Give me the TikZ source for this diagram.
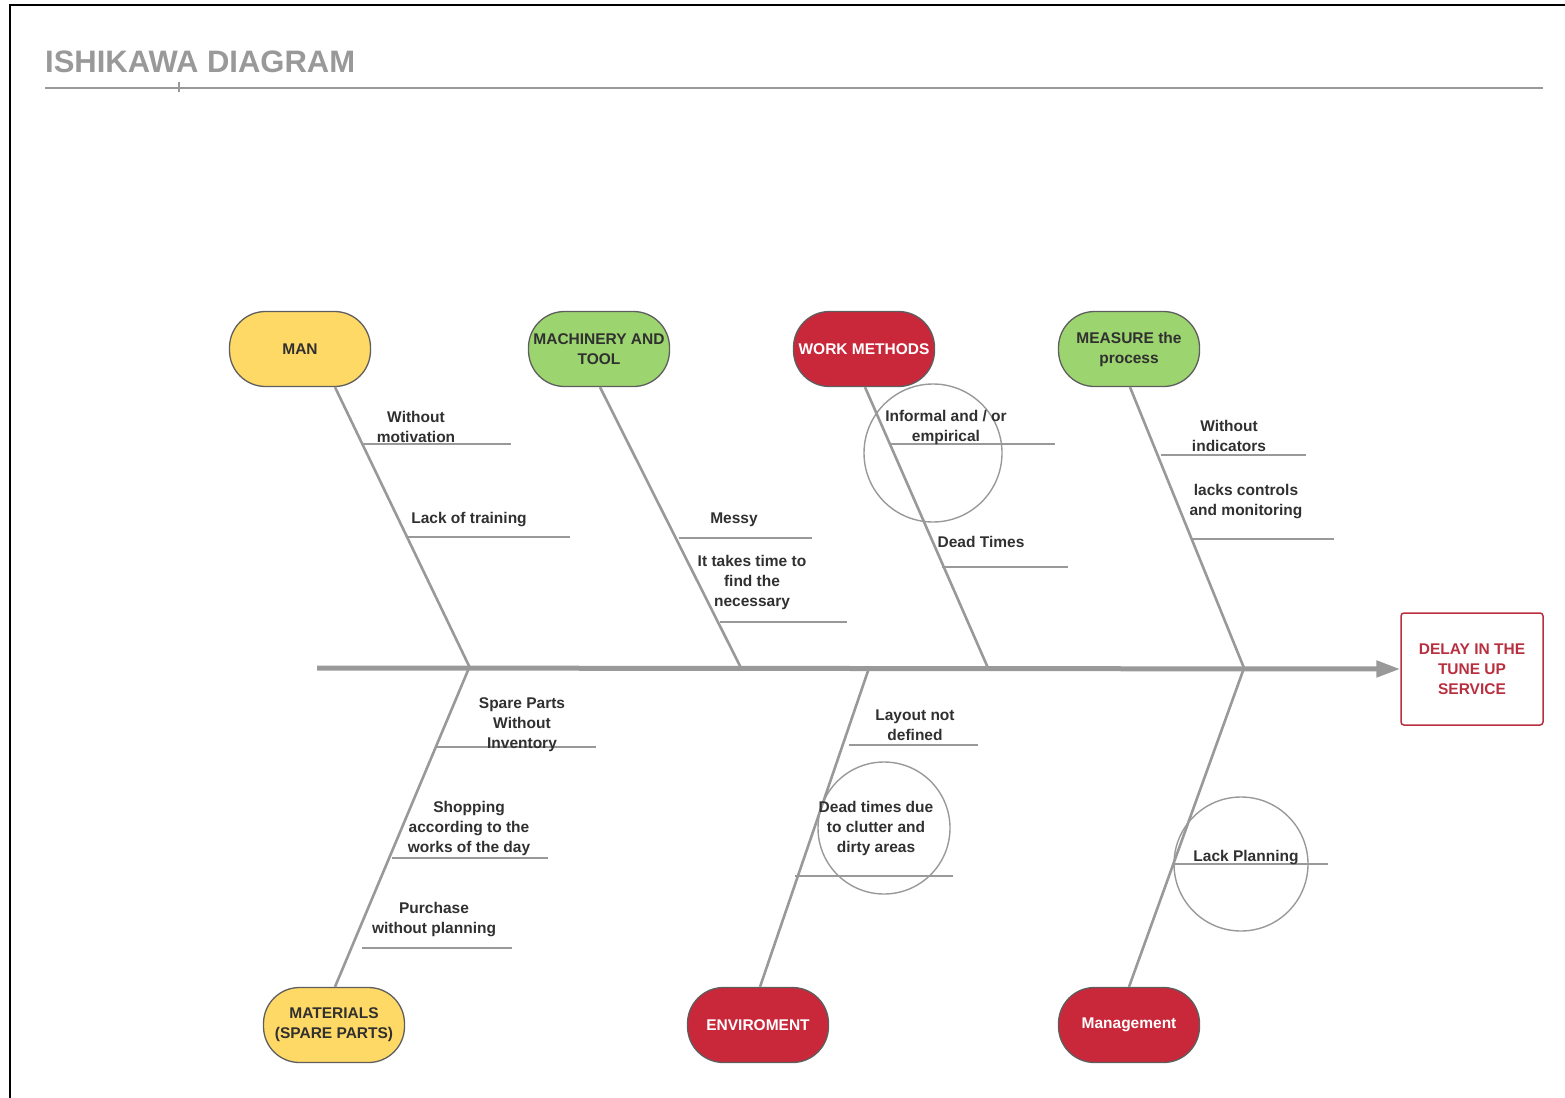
\documentclass[tikz,border=0pt]{standalone}
\usepackage{fontspec}
\setmainfont{Liberation Sans}
\usetikzlibrary{arrows.meta,calc}
\definecolor{cyel}{HTML}{FFD966}
\definecolor{cgrn}{HTML}{9CD46F}
\definecolor{cred}{HTML}{C8283A}
\definecolor{cbord}{HTML}{5E5E5E}
\definecolor{cline}{HTML}{999999}
\definecolor{ctext}{HTML}{303030}
\definecolor{ctitle}{HTML}{999999}
\definecolor{ceff}{HTML}{B8303F}
\tikzset{
  pill/.style={draw=cbord, line width=1.3pt, rounded corners=36pt, minimum width=141pt, minimum height=75pt, align=center, inner sep=0pt, font=\fontsize{15.5}{20}\selectfont\bfseries},
  yel/.style={pill, fill=cyel, text=ctext},
  grn/.style={pill, fill=cgrn, text=ctext},
  redp/.style={pill, fill=cred, text=white},
  bone/.style={draw=cline, line width=2.6pt},
  sub/.style={draw=cline, line width=1.4pt},
  lbl/.style={align=center, inner sep=0pt, text=ctext, font=\fontsize{15.5}{20}\selectfont\bfseries},
  ring/.style={draw=cline, line width=1.4pt},
}
\begin{document}
\begin{tikzpicture}[x=1pt,y=-1pt]
\useasboundingbox (0,0) rectangle (1565,1097);
% frame
\draw[line width=2pt, black] (10,1100) -- (10,5) -- (1570,5);
% title
\node[anchor=base west, inner sep=0pt, text=ctitle, font=\fontsize{31}{36}\selectfont\bfseries] (title) at (45,73) {ISHIKAWA DIAGRAM};
\draw[cline, line width=1.4pt] (45,88) -- (1543,88);
\draw[cline, line width=1.2pt] (179,82) -- (179,92);
% effect
\node[draw=ceff, line width=1.5pt, rounded corners=3pt, minimum width=142pt, minimum height=112pt, align=center, text=ceff, font=\fontsize{15.5}{20}\selectfont\bfseries] (effect) at (1472,669) {DELAY IN THE\\TUNE UP\\SERVICE};
% spine
\coordinate (tail) at (317,668);
\draw[cline, line width=5pt, -{Triangle[length=24pt,width=16pt]}] (tail) -- (effect.west);
% category nodes
\node[yel] (man) at (300,349) {MAN};
\node[grn] (mach) at (599,349) {MACHINERY AND\\TOOL};
\node[redp] (work) at (864,349) {WORK METHODS};
\node[grn] (meas) at (1129,349) {MEASURE the\\process};
\node[yel] (mat) at (334,1025) {MATERIALS\\(SPARE PARTS)};
\node[redp] (env) at (758,1025) {ENVIROMENT};
\node[redp] (mgmt) at (1129,1025) {Management};
% junctions
\coordinate (j1) at (470,668);
\coordinate (j2) at (741,668);
\coordinate (j3) at (988,668);
\coordinate (j4) at (1244,668);
\coordinate (k1) at (469,668);
\coordinate (k2) at (869,668);
\coordinate (k3) at (1244,668);
% bones
\draw[bone] ([xshift=35pt]man.south) -- (j1);
\draw[bone] ([xshift=1pt]mach.south) -- (j2);
\draw[bone] ([xshift=1pt]work.south) -- (j3);
\draw[bone] ([xshift=1pt]meas.south) -- (j4);
\draw[bone] ([xshift=1pt]mat.north) -- (k1);
\draw[bone] ([xshift=2pt]env.north) -- (k2);
\draw[bone] (mgmt.north) -- (k3);
% circles
\draw[ring] (933,453) circle[radius=69pt];
\draw[ring] (884,828) circle[radius=66pt];
\draw[ring] (1241,864) circle[radius=67pt];
% sub causes: MAN
\draw[sub] (362,444) -- (511,444);
\node[lbl] (m1) at (416,427) {Without\\motivation};
\draw[sub] (406,537) -- (570,537);
\node[lbl] (m2) at (469,520) {Lack of training};
% MACHINERY
\draw[sub] (679,538) -- (812,538);
\node[lbl] (c1) at (734,520) {Messy};
\draw[sub] (720,622) -- (847,622);
\node[lbl] (c2) at (752,582) {It takes time to\\find the\\necessary};
% WORK METHODS
\draw[sub] (889,444) -- (1055,444);
\node[lbl] (w1) at (946,427) {Informal and / or\\empirical};
\draw[sub] (942,567) -- (1068,567);
\node[lbl] (w2) at (981,542) {Dead Times};
% MEASURE
\draw[sub] (1161,455) -- (1306,455);
\node[lbl] (s1) at (1229,436) {Without\\indicators};
\draw[sub] (1193,539) -- (1334,539);
\node[lbl] (s2) at (1246,502) {lacks controls\\and monitoring};
% MATERIALS
\draw[sub] (437,747) -- (596,747);
\node[lbl] (t1) at (522,725) {Spare Parts\\Without\\Inventory};
\draw[sub] (392,858) -- (548,858);
\node[lbl] (t2) at (469,828) {Shopping\\according to the\\works of the day};
\draw[sub] (362,948) -- (512,948);
\node[lbl] (t3) at (434,920) {Purchase\\without planning};
% ENVIROMENT
\draw[sub] (849,745) -- (978,745);
\node[lbl] (e1) at (915,725) {Layout not\\defined};
\draw[sub] (795,876) -- (953,876);
\node[lbl] (e2) at (876,828) {Dead times due\\to clutter and\\dirty areas};
% MANAGEMENT
\draw[sub] (1172,864) -- (1328,864);
\node[lbl] (g1) at (1246,858) {Lack Planning};
\end{tikzpicture}
\end{document}
